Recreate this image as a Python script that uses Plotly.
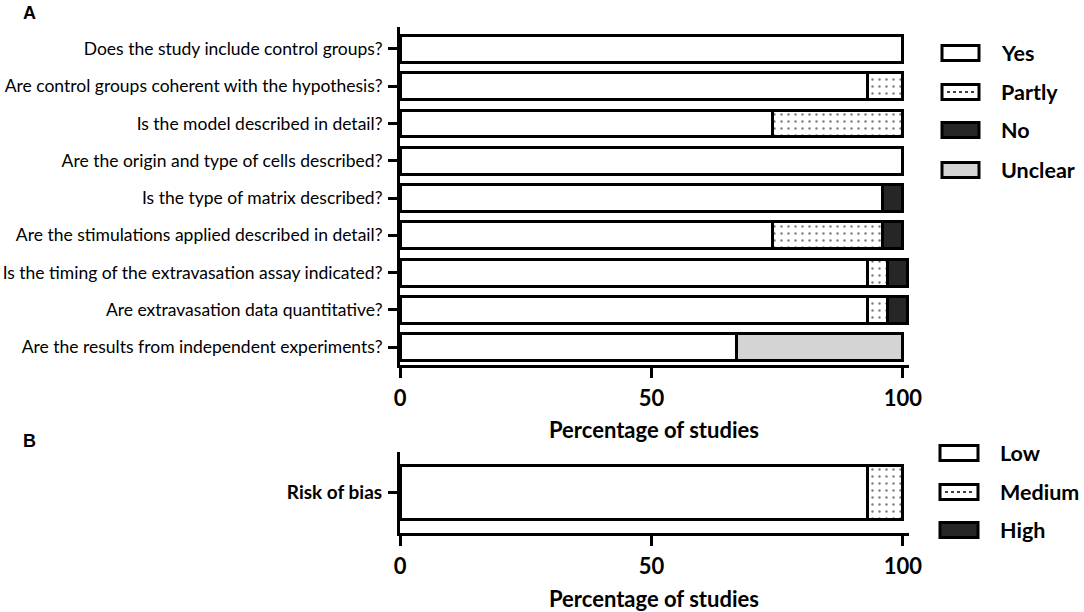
import plotly.graph_objects as go

# ---------------- data ----------------
questions = [
    "Does the study include control groups?",
    "Are control groups coherent with the hypothesis?",
    "Is the model described in detail?",
    "Are the origin and type of cells described?",
    "Is the type of matrix described?",
    "Are the stimulations applied described in detail?",
    "Is the timing of the extravasation assay indicated?",
    "Are extravasation data quantitative?",
    "Are the results from independent experiments?",
]
answer_names = ["Yes", "Partly", "No", "Unclear"]
yes_vals     = [100, 93, 74, 100, 96, 74, 93, 93, 67]
partly_vals  = [None, 7, 26, None, None, 22, 4, 4, None]
no_vals      = [None, None, None, None, 4, 4, 4, 4, None]
unclear_vals = [None, None, None, None, None, None, None, None, 33]

bias_category = ["Risk of bias"]
bias_names = ["Low", "Medium", "High"]
low_vals = [93]
medium_vals = [7]
high_vals = [None]

x_ticks = [0, 50, 100]
x_title = "Percentage of studies"

# ---------------- styles ----------------
FONT = "Lato"
BLACK = "#000000"
styles = {
    "Yes": dict(color="#ffffff", pattern=None),
    "Partly": dict(color="#ffffff", pattern=dict(shape=".", fgcolor="#000000",
                                                 bgcolor="#ffffff", size=7,
                                                 solidity=0.1, fillmode="overlay")),
    "No": dict(color="#262626", pattern=None),
    "Unclear": dict(color="#d4d4d4", pattern=None),
}
styles["Low"] = styles["Yes"]
styles["Medium"] = styles["Partly"]
styles["High"] = styles["No"]

fig = go.Figure()


def add_bar(name, vals, cats, xa, ya, width):
    st = styles[name]
    marker = dict(color=st["color"], line=dict(color=BLACK, width=3))
    if st["pattern"]:
        marker["pattern"] = st["pattern"]
    fig.add_trace(go.Bar(
        name=name, x=vals, y=cats, orientation="h", marker=marker,
        width=width, xaxis=xa, yaxis=ya, showlegend=False,
    ))


for nm, vals in zip(answer_names, [yes_vals, partly_vals, no_vals, unclear_vals]):
    add_bar(nm, vals, questions, "x", "y", 0.72)
for nm, vals in zip(bias_names, [low_vals, medium_vals, high_vals]):
    add_bar(nm, vals, bias_category, "x2", "y2", 0.667)

W, H = 1084, 612


def px_x(p):
    return p / W


def px_y(p):
    return 1 - p / H


xdom = [px_x(400), px_x(909)]
xrange = [0, 101.2]

common_x = dict(
    range=xrange, domain=xdom, tickvals=x_ticks, ticktext=[str(t) for t in x_ticks],
    showline=True, linewidth=3, linecolor=BLACK, ticks="outside", ticklen=10,
    tickwidth=3, tickcolor=BLACK, showgrid=False, zeroline=False,
    tickfont=dict(family=FONT, size=22, color=BLACK, weight="bold"),
    ticklabelstandoff=2, fixedrange=True, automargin=False,
)
common_y = dict(
    showline=True, linewidth=3, linecolor=BLACK, ticks="outside", ticklen=9,
    tickwidth=3, tickcolor=BLACK, showgrid=False, zeroline=False,
    ticklabelstandoff=2, fixedrange=True, type="category", automargin=False,
)

fig.update_layout(
    template="none",
    width=W, height=H, margin=dict(l=0, r=0, t=0, b=0, pad=0, autoexpand=False),
    paper_bgcolor="white", plot_bgcolor="white",
    barmode="stack", showlegend=False,
    xaxis=dict(anchor="y", **common_x),
    yaxis=dict(anchor="x", domain=[px_y(365), px_y(27)], range=[8.48, -0.59],
               tickfont=dict(family=FONT, size=17.5, color=BLACK), **common_y),
    xaxis2=dict(anchor="y2", **common_x),
    yaxis2=dict(anchor="x2", domain=[px_y(533), px_y(452)], range=[0.5, -0.5],
                tickfont=dict(family=FONT, size=19, color=BLACK, weight="bold"), **common_y),
)

shapes = []
annotations = []


def text(t, x, y, size, bold=True, family=FONT, xanchor="center"):
    annotations.append(dict(text=t, x=px_x(x), y=px_y(y), xref="paper", yref="paper",
                            xanchor=xanchor, yanchor="middle", showarrow=False,
                            font=dict(family=family, size=size, color=BLACK,
                                      weight="bold" if bold else "normal")))


# axis titles and panel labels
text(x_title, 654, 430, 22)
text(x_title, 654, 598, 22)
text("A", 29, 13, 18, family="Liberation Sans")
text("B", 29, 441, 18, family="Liberation Sans")


def legend(names, ys, bx0, bx1, tx):
    for nm, yc in zip(names, ys):
        st = styles[nm]
        shapes.append(dict(type="rect", xref="paper", yref="paper",
                           x0=px_x(bx0), x1=px_x(bx1), y0=px_y(yc + 7.5), y1=px_y(yc - 7.5),
                           fillcolor=st["color"], line=dict(color=BLACK, width=3)))
        if st["pattern"]:
            shapes.append(dict(type="line", xref="paper", yref="paper",
                               x0=px_x(bx0 + 5), x1=px_x(bx1 - 4), y0=px_y(yc), y1=px_y(yc),
                               line=dict(color=BLACK, width=1.5, dash="dot")))
        text(nm, tx, yc, 21.5, xanchor="left")


legend(answer_names, [53, 92, 130, 170], 942, 979, 999)
legend(bias_names, [453, 492, 530], 940, 978, 998)

fig.update_layout(shapes=shapes, annotations=annotations)

fig.write_html(
    "out.html",
    config={"displayModeBar": False, "staticPlot": True},
    post_script="document.body.style.margin='0';document.body.style.overflow='hidden';",
)
